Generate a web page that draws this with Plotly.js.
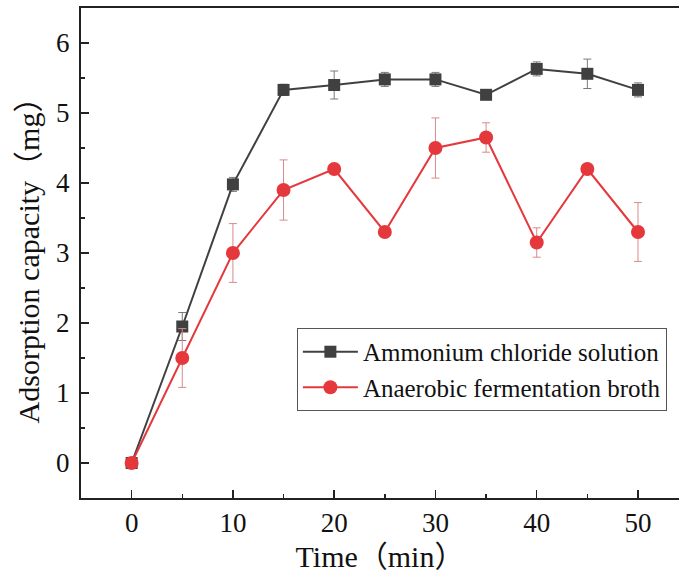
<!DOCTYPE html>
<html>
<head>
<meta charset="utf-8">
<script src="https://cdn.plot.ly/plotly-3.0.1.min.js"></script>
<style>html,body{margin:0;padding:0;background:#fff;}#chart{width:679px;height:577px;}</style>
</head>
<body>
<div id="chart"></div>
<script>
const timeMin = [0, 5, 10, 15, 20, 25, 30, 35, 40, 45, 50];
const ammoniumValues = [0, 1.95, 3.98, 5.33, 5.40, 5.48, 5.48, 5.26, 5.63, 5.56, 5.33];
const ammoniumErrors = [0.02, 0.2, 0.1, 0.08, 0.2, 0.1, 0.1, 0.03, 0.1, 0.21, 0.1];
const brothValues = [0, 1.5, 3.0, 3.9, 4.2, 3.3, 4.5, 4.65, 3.15, 4.2, 3.3];
const brothErrors = [0.02, 0.42, 0.42, 0.43, 0.02, 0.02, 0.43, 0.21, 0.21, 0.02, 0.42];
const seriesNames = ["Ammonium chloride solution", "Anaerobic fermentation broth"];
const xTickVals = [0, 10, 20, 30, 40, 50];
const yTickVals = [0, 1, 2, 3, 4, 5, 6];

const FONT = 'Liberation Serif, Noto Sans CJK SC, serif';

const traces = [
  {
    x: timeMin, y: ammoniumValues, name: seriesNames[0],
    type: 'scatter', mode: 'lines+markers',
    line: {color: '#404040', width: 2},
    marker: {symbol: 'square', size: 12, color: '#404040'},
    error_y: {type: 'data', array: ammoniumErrors, visible: true, color: '#7a7a7a', thickness: 1, width: 4}
  },
  {
    x: timeMin, y: brothValues, name: seriesNames[1],
    type: 'scatter', mode: 'lines+markers',
    line: {color: '#e5383d', width: 2},
    marker: {symbol: 'circle', size: 14, color: '#e5383d'},
    error_y: {type: 'data', array: brothErrors, visible: true, color: '#d98a8a', thickness: 1, width: 4}
  }
];

const layout = {
  width: 679, height: 577,
  margin: {l: 81, r: 0, t: 8, b: 79},
  paper_bgcolor: '#fff', plot_bgcolor: '#fff',
  font: {family: FONT, color: '#111', size: 24},
  showlegend: true,
  legend: {
    x: 0.361, y: 0.347, xanchor: 'left', yanchor: 'top',
    bordercolor: '#555', borderwidth: 1, bgcolor: 'rgba(255,255,255,0)',
    font: {family: FONT, size: 25, color: '#111'},
    itemwidth: 55,
    tracegroupgap: 0
  },
  xaxis: {
    range: [-5, 54.05],
    tickvals: xTickVals,
    ticks: 'inside', ticklen: 8, tickwidth: 1.5, tickcolor: '#222',
    minor: {dtick: 5, tick0: 0, ticks: 'inside', ticklen: 4, tickwidth: 1.5, tickcolor: '#222'},
    showline: true, linecolor: '#222', linewidth: 2, mirror: true,
    showgrid: false, zeroline: false,
    tickfont: {family: FONT, size: 27, color: '#111'},
    title: {text: 'Time（min）', font: {family: FONT, size: 30, color: '#111'}, standoff: 9}
  },
  yaxis: {
    range: [-0.5, 6.5],
    tickvals: yTickVals,
    ticks: 'inside', ticklen: 8, tickwidth: 1.5, tickcolor: '#222',
    minor: {dtick: 0.5, tick0: 0, ticks: 'inside', ticklen: 4, tickwidth: 1.5, tickcolor: '#222'},
    showline: true, linecolor: '#222', linewidth: 2, mirror: false,
    showgrid: false, zeroline: false,
    tickfont: {family: FONT, size: 27, color: '#111'},
    ticklabelstandoff: 4,
    title: {text: 'Adsorption capacity（mg）', font: {family: FONT, size: 30, color: '#111'}, standoff: 8}
  }
};

Plotly.newPlot('chart', traces, layout, {displayModeBar: false, staticPlot: true});
</script>
</body>
</html>
